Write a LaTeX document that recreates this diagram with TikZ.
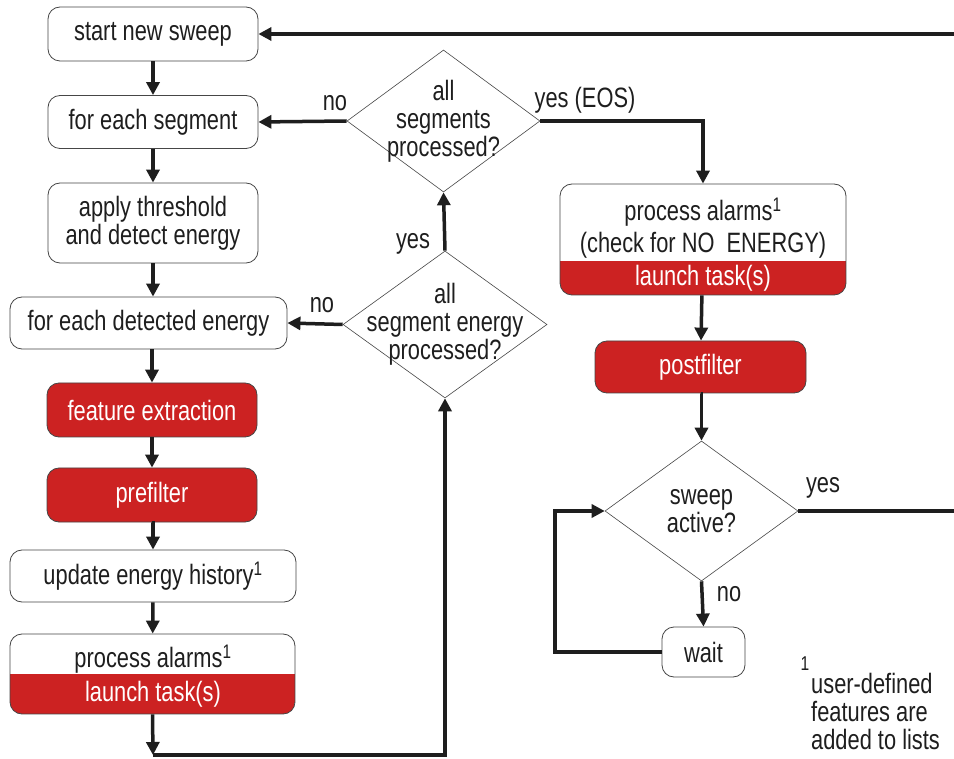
\documentclass[tikz,border=0pt]{standalone}
\usepackage{fontspec}
\setmainfont[FakeStretch=0.78]{Liberation Sans}
\usetikzlibrary{arrows.meta,shapes.geometric}
\definecolor{boxred}{RGB}{204,34,34}
\definecolor{edgegray}{RGB}{70,70,70}
\definecolor{ink}{RGB}{30,30,30}

\begin{document}
\begin{tikzpicture}[x=1pt,y=-1pt,
  font=\fontsize{28}{28}\selectfont, text=ink,
  box/.style={draw=edgegray, line width=0.8pt, rounded corners=12pt, fill=white,
              align=center, inner sep=0pt},
  redbox/.style={box, fill=boxred, text=white},
  splitbox/.style={box, path picture={\fill[boxred, sharp corners]
      (path picture bounding box.south west) rectangle
      ([yshift=#1]path picture bounding box.south east);}},
  decision/.style={diamond, draw=edgegray, line width=0.6pt, fill=white, inner sep=0pt},
  flow/.style={line width=3.5pt, draw=ink, -{Triangle[length=13pt,width=13pt]}},
  wire/.style={line width=3.5pt, draw=ink},
  lbl/.style={inner sep=0pt, align=center}]

\useasboundingbox[fill=white] (0,0) rectangle (954,759);

% left column
\node[box, minimum width=210pt, minimum height=54pt] (start) at (153,34) {start new sweep};
\node[box, minimum width=210pt, minimum height=53pt] (seg) at (153,122) {for each segment};
\node[box, minimum width=210pt, minimum height=80pt] (thr) at (153,223) {apply threshold\\and detect energy};
\node[box, minimum width=277pt, minimum height=52pt] (det) at (148.5,323) {for each detected energy};
\node[redbox, minimum width=210pt, minimum height=54pt] (feat) at (152,410) {feature extraction};
\node[redbox, minimum width=210pt, minimum height=54pt] (pref) at (152,495) {prefilter};
\node[box, minimum width=286pt, minimum height=52pt] (hist) at (153,576) {update energy history\textsuperscript{1}};
\node[splitbox=40pt, minimum width=285pt, minimum height=80pt] (alarmL) at (152.5,674) {};
\node[lbl] (alarmLtop) at (153,659) {process alarms\textsuperscript{1}};
\node[lbl, text=white] (alarmLbot) at (153,694) {launch task(s)};

% decisions
\node[decision, minimum width=193pt, minimum height=142pt] (d1) at (443.5,121) {};
\node[lbl] (d1t) at (d1) {all\\segments\\processed?};
\node[decision, minimum width=204pt, minimum height=147pt] (d2) at (445,324.5) {};
\node[lbl] (d2t) at (d2) {all\\segment energy\\processed?};
\node[decision, minimum width=193pt, minimum height=140pt] (d3) at (701.5,511) {};
\node[lbl] (d3t) at (d3) {sweep\\active?};

% right column
\node[splitbox=34pt, minimum width=286pt, minimum height=111pt] (alarmR) at (703,239.5) {};
\node[lbl] (alarmRtop) at (703,212) {process alarms\textsuperscript{1}};
\node[lbl] (alarmRmid) at (703,245) {(check for NO\ \ ENERGY)};
\node[lbl, text=white] (alarmRbot) at (703,278) {launch task(s)};
\node[redbox, minimum width=211pt, minimum height=52pt] (post) at (700.5,367) {postfilter};
\node[box, minimum width=83pt, minimum height=50pt] (wait) at (703.5,652) {wait};

% loose ends and bends
\coordinate (lowL) at (153,755);
\coordinate (loopL) at (555,652);
\coordinate (edgeT) at (954,34);
\coordinate (edgeR) at (954,511);

% connectors, left column
\draw[flow] (start) -- (seg);
\draw[flow] (seg) -- (thr);
\draw[flow] (thr.south) -- (thr.south |- det.north);
\draw[flow] (feat.north |- det.south) -- (feat.north);
\draw[flow] (feat) -- (pref);
\draw[flow] (pref.south) -- (pref.south -| hist.north) -- (hist.north);
\draw[flow] (hist) -- (alarmL);
\draw[flow] (alarmL.south) -- (lowL);
\draw[flow] (lowL) -| (d2.south);

% decisions
\draw[flow] (d2.north) -- (d1.south);
\draw[flow] (d1.west) -- (seg.east);
\draw[flow] (d2.west) -- (det.east);
\draw[flow] (d1.east) -| (alarmR.north);

% right column
\draw[flow] (alarmR) -- (post);
\draw[flow] (post.south) -- (post.south -| d3.north) -- (d3.north);
\draw[flow] (d3.south) -- (wait.north);
\draw[flow] (wait.west) -- (loopL) |- (d3.west);
\draw[wire] (d3.east) -- (edgeR);
\draw[flow] (edgeT) -- (start.east);

% branch labels
\node[lbl] (noA) at (335,103) {no};
\node[lbl] (noB) at (322,305) {no};
\node[lbl] (yesA) at (413,244) {yes};
\node[lbl] (yesB) at (585,100) {yes (EOS)};
\node[lbl] (yesC) at (823,488) {yes};
\node[lbl] (noC) at (729,594) {no};

% footnote
\node[lbl, font=\fontsize{20}{20}\selectfont] (fnmark) at (805,664) {1};
\node[lbl, anchor=north west, align=left] (fntext) at (811,673) {user-defined\\features are\\added to lists};
\end{tikzpicture}
\end{document}
